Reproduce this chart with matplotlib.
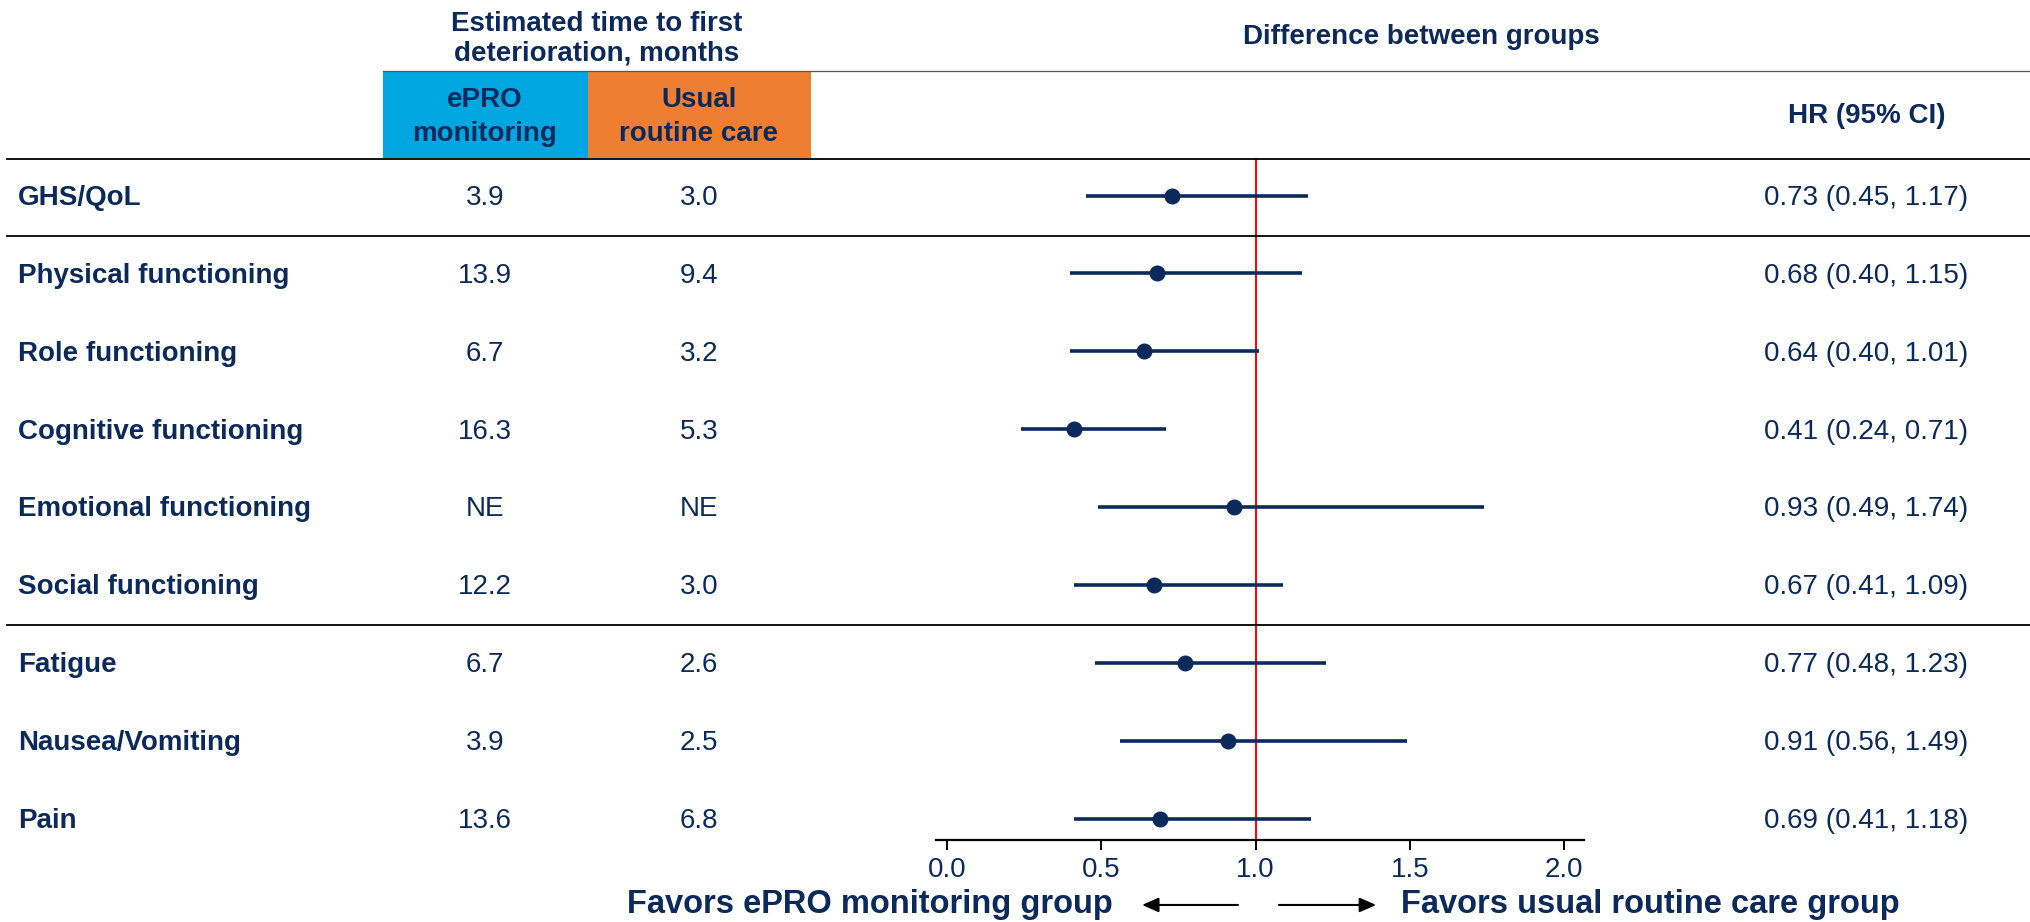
import matplotlib
matplotlib.use("Agg")
from matplotlib import pyplot as plt
from matplotlib.patches import Rectangle
from matplotlib.transforms import blended_transform_factory

plt.rcParams['font.family'] = ['Liberation Sans', 'DejaVu Sans']

# data
labels = ["GHS/QoL", "Physical functioning", "Role functioning", "Cognitive functioning",
          "Emotional functioning", "Social functioning", "Fatigue", "Nausea/Vomiting", "Pain"]
epro_months = ["3.9", "13.9", "6.7", "16.3", "NE", "12.2", "6.7", "3.9", "13.6"]
usual_months = ["3.0", "9.4", "3.2", "5.3", "NE", "3.0", "2.6", "2.5", "6.8"]
hr = [0.73, 0.68, 0.64, 0.41, 0.93, 0.67, 0.77, 0.91, 0.69]
ci_low = [0.45, 0.40, 0.40, 0.24, 0.49, 0.41, 0.48, 0.56, 0.41]
ci_high = [1.17, 1.15, 1.01, 0.71, 1.74, 1.09, 1.23, 1.49, 1.18]
xticks = [0.0, 0.5, 1.0, 1.5, 2.0]
group_breaks = [0.52, 5.51]

navy = '#0b2a5b'
blue = '#00a6df'
orange = '#ee7e32'

W, H = 2031, 922
fig = plt.figure(figsize=(W / 100, H / 100), dpi=100)


def fx(px):
    return px / W


def fy(py):
    return 1 - py / H


ax = fig.add_axes([fx(936), fy(840), fx(1584) - fx(936), fy(159) - fy(840)])
ax.set_xlim(-0.036, 2.065)
ax.set_ylim(8.274, -0.469)

rows = list(range(len(labels)))
ax.axvline(1.0, color='red', lw=1.4, zorder=1)
ax.hlines(rows, ci_low, ci_high, color=navy, lw=2.6, zorder=2)
ax.plot(hr, rows, 'o', color=navy, ms=10.5, zorder=3)

for s in ['top', 'right', 'left']:
    ax.spines[s].set_visible(False)
ax.spines['bottom'].set_linewidth(1.6)
ax.spines['bottom'].set_color('black')
ax.set_yticks([])
ax.set_xticks(xticks)
ax.set_xticklabels([f"{t:.1f}" for t in xticks])
ax.tick_params(axis='x', length=7, width=1.4, pad=5.5, labelsize=20, labelcolor=navy, color='black')

# table columns, x in figure coords, y in row units
trans = blended_transform_factory(fig.transFigure, ax.transData)
dy = 0.03
for i in rows:
    ax.text(fx(18), i + dy, labels[i], transform=trans, ha='left', va='center',
            fontsize=20, fontweight='bold', color=navy)
    ax.text(fx(485), i + dy, epro_months[i], transform=trans, ha='center', va='center',
            fontsize=20, color=navy)
    ax.text(fx(699), i + dy, usual_months[i], transform=trans, ha='center', va='center',
            fontsize=20, color=navy)
    ax.text(fx(1968), i + dy, f"{hr[i]:.2f} ({ci_low[i]:.2f}, {ci_high[i]:.2f})", transform=trans,
            ha='right', va='center', fontsize=20, color=navy)

for b in group_breaks:
    ax.plot([fx(7), 1.0], [b, b], transform=trans, color='black', lw=1.3, clip_on=False)

# header
fig.add_artist(plt.Line2D([fx(7), 1.0], [fy(159), fy(159)], color='black', lw=1.3))
fig.add_artist(plt.Line2D([fx(383), 1.0], [fy(71), fy(71)], color='#555555', lw=0.9))
fig.add_artist(Rectangle((fx(383), fy(158)), fx(588) - fx(383), fy(72) - fy(158),
                         facecolor=blue, edgecolor='none', transform=fig.transFigure))
fig.add_artist(Rectangle((fx(588), fy(158)), fx(811) - fx(588), fy(72) - fy(158),
                         facecolor=orange, edgecolor='none', transform=fig.transFigure))
fig.text(fx(485), fy(117), "ePRO\nmonitoring", ha='center', va='center', fontsize=20,
         fontweight='bold', color=navy, linespacing=1.36)
fig.text(fx(699), fy(117), "Usual\nroutine care", ha='center', va='center', fontsize=20,
         fontweight='bold', color=navy, linespacing=1.36)
fig.text(fx(597), fy(39), "Estimated time to first\ndeterioration, months", ha='center', va='center',
         fontsize=20, fontweight='bold', color=navy, linespacing=1.17)
fig.text(fx(1421), fy(37), "Difference between groups", ha='center', va='center',
         fontsize=20, fontweight='bold', color=navy)
fig.text(fx(1867), fy(116), "HR (95% CI)", ha='center', va='center',
         fontsize=20, fontweight='bold', color=navy)

# favors labels and arrows
tb = ax.get_xaxis_transform()
y_fav = -0.0954
ax.text(0.538, y_fav, "Favors ePRO monitoring group", transform=tb, ha='right', va='center',
        fontsize=23.5, fontweight='bold', color=navy)
ax.text(1.472, y_fav, "Favors usual routine care group", transform=tb, ha='left', va='center',
        fontsize=23.5, fontweight='bold', color=navy)
arrow = dict(arrowstyle='-|>,head_length=0.5,head_width=0.22', color='black', lw=1.5,
             mutation_scale=20, shrinkA=0, shrinkB=0)
ax.annotate('', xy=(0.632, y_fav), xytext=(0.943, y_fav), xycoords=tb, textcoords=tb,
            arrowprops=arrow, annotation_clip=False)
ax.annotate('', xy=(1.391, y_fav), xytext=(1.076, y_fav), xycoords=tb, textcoords=tb,
            arrowprops=arrow, annotation_clip=False)

fig.savefig('out.png', dpi=100)
